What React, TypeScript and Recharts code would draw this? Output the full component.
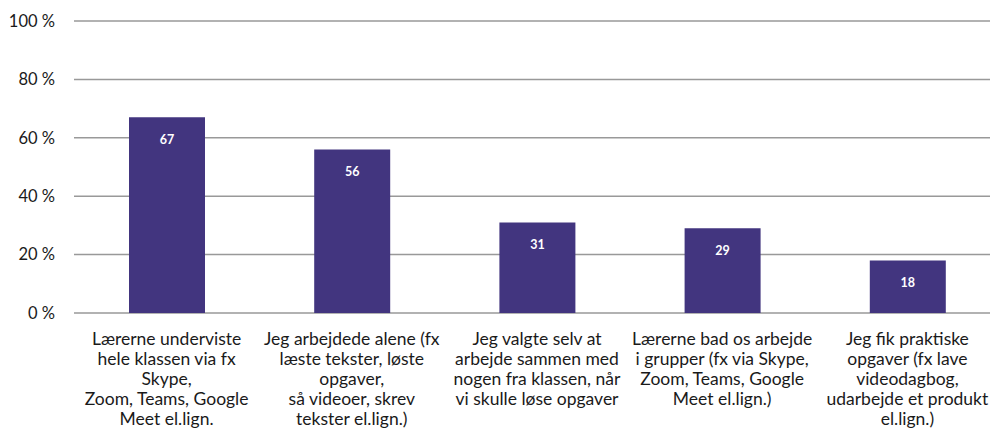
import React from "react";
import {
  BarChart,
  Bar,
  XAxis,
  YAxis,
  CartesianGrid,
  LabelList,
} from "recharts";

const BAR_COLOR = "#42357f";
const FONT = "Lato, 'Noto Sans', sans-serif";

const categories = [
  "Lærerne underviste hele klassen via fx Skype, Zoom, Teams, Google Meet el.lign.",
  "Jeg arbejdede alene (fx læste tekster, løste opgaver, så videoer, skrev tekster el.lign.)",
  "Jeg valgte selv at arbejde sammen med nogen fra klassen, når vi skulle løse opgaver",
  "Lærerne bad os arbejde i grupper (fx via Skype, Zoom, Teams, Google Meet el.lign.)",
  "Jeg fik praktiske opgaver (fx lave videodagbog, udarbejde et produkt el.lign.)",
];

// line breaks as in the original labels
const labelLines = [
  ["Lærerne underviste", "hele klassen via fx", "Skype,", "Zoom, Teams, Google", "Meet el.lign."],
  ["Jeg arbejdede alene (fx", "læste tekster, løste", "opgaver,", "så videoer, skrev", "tekster el.lign.)"],
  ["Jeg valgte selv at", "arbejde sammen med", "nogen fra klassen, når", "vi skulle løse opgaver"],
  ["Lærerne bad os arbejde", "i grupper (fx via Skype,", "Zoom, Teams, Google", "Meet el.lign.)"],
  ["Jeg fik praktiske", "opgaver (fx lave", "videodagbog,", "udarbejde et produkt", "el.lign.)"],
];

const values = [67, 56, 31, 29, 18];
const yTicks = [0, 20, 40, 60, 80, 100];

const data = categories.map((name, i) => ({ name, idx: i, value: values[i] }));

const XTick: React.FC<any> = ({ x, y, payload }) => {
  const lines = labelLines[payload.index] || [String(payload.value)];
  return (
    <text x={x} y={y} textAnchor="middle" fill="#1a1a1a" fontSize={17.5} fontFamily={FONT}>
      {lines.map((l, i) => (
        <tspan key={i} x={x} dy={i === 0 ? 24 : 20}>
          {l}
        </tspan>
      ))}
    </text>
  );
};

const ValueLabel: React.FC<any> = ({ x, y, width, value }) => (
  <text
    x={x + width / 2}
    y={y + 27}
    textAnchor="middle"
    fill="#fff"
    fontSize={12.5}
    fontWeight="bold"
    fontFamily={FONT}
  >
    {value}
  </text>
);

const App = () => {
  return (
    <div
      style={{
        position: "absolute",
        left: 0,
        top: 0,
        width: 990,
        height: 439,
        overflow: "hidden",
        background: "#fff",
      }}
    >
      <BarChart
        width={1000}
        height={439}
        data={data}
        margin={{ top: 21, right: 0, left: 0, bottom: 0 }}
      >
        <CartesianGrid vertical={false} stroke="#999" strokeWidth={1.5} />
        <XAxis
          dataKey="name"
          height={126}
          axisLine={false}
          tickLine={false}
          interval={0}
          tick={<XTick />}
        />
        <YAxis
          width={74}
          domain={[0, 100]}
          ticks={yTicks}
          axisLine={false}
          tickLine={false}
          tickSize={0}
          tickMargin={19}
          tickFormatter={(v) => `${v} %`}
          tick={{ fontSize: 16.5, fill: "#1a1a1a", fontFamily: FONT }}
        />
        <Bar dataKey="value" fill={BAR_COLOR} barSize={76} isAnimationActive={false}>
          <LabelList dataKey="value" content={<ValueLabel />} />
        </Bar>
      </BarChart>
    </div>
  );
};

export default App;
